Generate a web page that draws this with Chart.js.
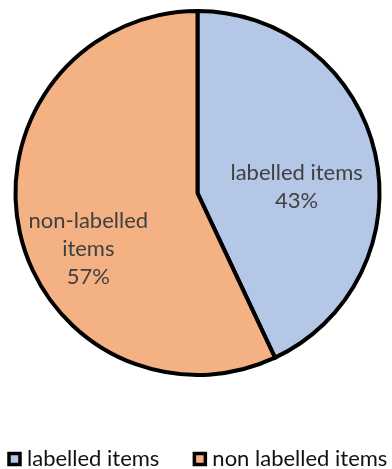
<!DOCTYPE html>
<html>
<head>
<meta charset="utf-8">
<script src="https://cdn.jsdelivr.net/npm/chart.js@4/dist/chart.umd.min.js"></script>
<style>
  html, body { margin: 0; padding: 0; background: #fff; overflow: hidden; }
  #wrap { width: 392px; height: 469px; position: relative; }
</style>
</head>
<body>
<div id="wrap"><canvas id="pie-chart"></canvas></div>
<script>
// chart data
const categories = ['labelled items', 'non labelled items'];
const sliceLabels = [['labelled items'], ['non-labelled', 'items']];
const values = [43, 57];
const sliceColors = ['#B4C7E7', '#F4B183'];

const FONT = 'Lato';

// draws the in-slice labels, placed from each arc's own geometry
const sliceLabelPlugin = {
  id: 'sliceLabels',
  afterDatasetsDraw(chart, args, opts) {
    const { ctx } = chart;
    const meta = chart.getDatasetMeta(0);
    const total = values.reduce((a, b) => a + b, 0);
    ctx.save();
    ctx.font = `${opts.size}px ${FONT}`;
    ctx.fillStyle = '#404040';
    ctx.textAlign = 'center';
    ctx.textBaseline = 'middle';
    meta.data.forEach((arc, i) => {
      const p = arc.getProps(['x', 'y', 'startAngle', 'endAngle', 'outerRadius'], true);
      const place = opts.place[i];
      const mid = (p.startAngle + p.endAngle) / 2 + place.turn * Math.PI / 180;
      const cx = p.x + Math.cos(mid) * p.outerRadius * place.r;
      const cy = p.y + Math.sin(mid) * p.outerRadius * place.r;
      const lines = sliceLabels[i].concat([Math.round(values[i] / total * 100) + '%']);
      const lh = opts.lineHeight;
      lines.forEach((t, k) => {
        ctx.fillText(t, cx, cy + (k - (lines.length - 1) / 2) * lh);
      });
    });
    ctx.restore();
  }
};

// Excel style legend along the bottom, left aligned, clipped by the canvas edge
const bottomLegendPlugin = {
  id: 'bottomLegend',
  afterDraw(chart, args, opts) {
    const { ctx } = chart;
    ctx.save();
    ctx.font = `${opts.size}px ${FONT}`;
    ctx.textBaseline = 'middle';
    ctx.textAlign = 'left';
    let x = opts.x;
    const y = opts.y;
    categories.forEach((name, i) => {
      ctx.fillStyle = sliceColors[i];
      ctx.fillRect(x, y - opts.box / 2, opts.box, opts.box);
      ctx.lineWidth = 3.5;
      ctx.strokeStyle = '#000';
      ctx.strokeRect(x, y - opts.box / 2, opts.box, opts.box);
      ctx.fillStyle = '#111';
      ctx.fillText(name, x + opts.box + 7, y);
      x += opts.box + 7 + ctx.measureText(name).width + opts.gap;
    });
    ctx.restore();
  }
};

new Chart(document.getElementById('pie-chart'), {
  type: 'pie',
  data: {
    labels: categories,
    datasets: [{
      data: values,
      backgroundColor: sliceColors,
      borderColor: '#000',
      borderWidth: 4,
      borderJoinStyle: 'miter'
    }]
  },
  options: {
    responsive: true,
    maintainAspectRatio: false,
    animation: false,
    radius: 182,
    layout: { padding: { left: 3, right: 0, top: 0, bottom: 83 } },
    plugins: {
      legend: { display: false },
      tooltip: { enabled: false },
      sliceLabels: { size: 22, lineHeight: 28, place: [{ r: 0.546, turn: 9 }, { r: 0.674, turn: -14.5 }] },
      bottomLegend: { size: 22, x: 9, y: 459, box: 11, gap: 35 }
    }
  },
  plugins: [sliceLabelPlugin, bottomLegendPlugin]
});
</script>
</body>
</html>
